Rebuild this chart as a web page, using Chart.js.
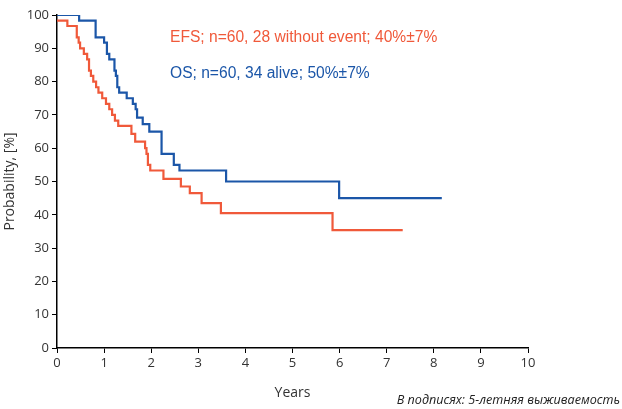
<!DOCTYPE html>
<html>
<head>
<meta charset="utf-8">
<script src="https://cdn.jsdelivr.net/npm/chart.js@4/dist/chart.umd.min.js"></script>
<style>
  html, body { margin: 0; padding: 0; background: #fff; }
  #wrap { position: relative; width: 622px; height: 409px; }
  #note {
    position: absolute; right: 2px; top: 391px;
    font-family: "Open Sans", sans-serif; font-style: italic; font-size: 12.6px; color: #222;
  }
</style>
</head>
<body>
<div id="wrap">
  <canvas id="kmChart" width="622" height="409"></canvas>
  <div id="note">В подписях: 5-летняя выживаемость</div>
</div>
<script>
// Kaplan-Meier curves (time in years, probability in %)
const efsTimes = [0, 0.22, 0.42, 0.46, 0.49, 0.57, 0.64, 0.68, 0.72, 0.77, 0.83, 0.88, 0.96, 1.04, 1.11, 1.17, 1.23, 1.30, 1.58, 1.66, 1.87, 1.90, 1.93, 1.98, 2.26, 2.63, 2.82, 3.07, 3.48, 5.85, 7.34];
const efsValues = [98.3, 96.7, 93.3, 91.7, 90, 88.3, 86.7, 83.3, 81.7, 80, 78.3, 76.7, 75, 73.3, 71.7, 70, 68.3, 66.7, 64.3, 62, 60, 58.3, 55, 53.3, 50.8, 48.5, 46.5, 43.5, 40.5, 35.4, 35.4];

const osTimes = [0, 0.47, 0.82, 1.0, 1.06, 1.11, 1.22, 1.25, 1.28, 1.32, 1.48, 1.61, 1.67, 1.70, 1.82, 1.96, 2.22, 2.48, 2.60, 3.59, 5.99, 8.17];
const osValues = [100, 98.3, 93.3, 91.7, 88.3, 86.7, 83.3, 81.7, 78.3, 76.7, 75, 73.3, 71.7, 69.2, 67.2, 65, 58.3, 55, 53.3, 50, 45, 45];

const xTicks = [0, 1, 2, 3, 4, 5, 6, 7, 8, 9, 10];
const yTicks = [0, 10, 20, 30, 40, 50, 60, 70, 80, 90, 100];

const efsLabel = 'EFS; n=60, 28 without event; 40%\u00b17%';
const osLabel = 'OS; n=60, 34 alive; 50%\u00b17%';

const efsColor = '#f0593a';
const osColor = '#1b56a8';

function toPoints(xs, ys) {
  return xs.map((x, i) => ({ x: x, y: ys[i] }));
}

// legend text drawn inside the plot
const legendText = {
  id: 'legendText',
  afterDraw(chart) {
    const ctx = chart.ctx;
    ctx.save();
    ctx.font = '15.6px "Liberation Sans", Arial, sans-serif';
    ctx.textBaseline = 'alphabetic';
    ctx.fillStyle = efsColor;
    ctx.fillText(efsLabel, 170, 42);
    ctx.fillStyle = osColor;
    ctx.fillText(osLabel, 170, 78);
    ctx.restore();
  }
};

const tickFont = { family: '"Open Sans", sans-serif', size: 13 };

new Chart(document.getElementById('kmChart'), {
  type: 'line',
  data: {
    datasets: [
      {
        label: 'EFS',
        data: toPoints(efsTimes, efsValues),
        borderColor: efsColor,
        borderWidth: 2.2,
        stepped: true,
        pointRadius: 0,
        fill: false
      },
      {
        label: 'OS',
        data: toPoints(osTimes, osValues),
        borderColor: osColor,
        borderWidth: 2.2,
        stepped: true,
        pointRadius: 0,
        fill: false
      }
    ]
  },
  options: {
    responsive: false,
    animation: false,
    layout: { padding: { left: 0, right: 94, top: 15, bottom: 4 } },
    plugins: {
      legend: { display: false },
      tooltip: { enabled: false }
    },
    scales: {
      x: {
        type: 'linear',
        min: 0,
        max: 10,
        afterBuildTicks: (scale) => { scale.ticks = xTicks.map(v => ({ value: v })); },
        afterFit: (scale) => { scale.height = 57; },
        grid: { drawOnChartArea: false, drawTicks: true, tickLength: 5, color: '#000' },
        border: { color: '#000', width: 1.5 },
        ticks: { color: '#333', font: tickFont, padding: 2 },
        title: { display: true, text: 'Years', color: '#333', font: { family: '"Open Sans", sans-serif', size: 14 }, padding: { top: 2, bottom: 4 } }
      },
      y: {
        min: 0,
        max: 100,
        afterBuildTicks: (scale) => { scale.ticks = yTicks.map(v => ({ value: v })); },
        afterFit: (scale) => { scale.width = 57; },
        grid: { drawOnChartArea: false, drawTicks: true, tickLength: 5, color: '#000' },
        border: { color: '#000', width: 1.5 },
        ticks: { color: '#333', font: tickFont, padding: 3 },
        title: { display: true, text: 'Probability, [%]', color: '#333', font: { family: '"Open Sans", sans-serif', size: 14 }, padding: { top: 2, bottom: 2 } }
      }
    }
  },
  plugins: [legendText]
});
</script>
</body>
</html>
